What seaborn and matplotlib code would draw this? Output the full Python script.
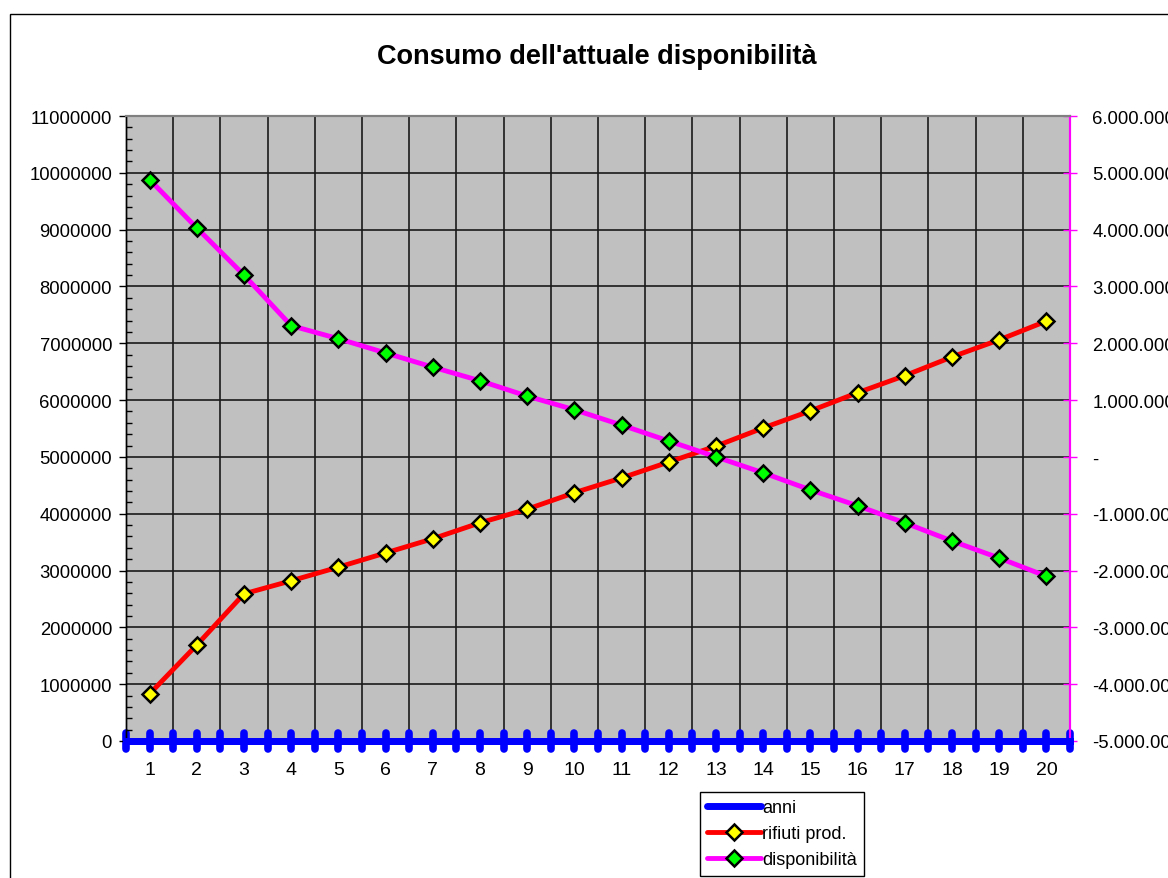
import pandas as pd
import seaborn as sns
import matplotlib.pyplot as plt
from matplotlib.ticker import MultipleLocator, FixedLocator, FuncFormatter
from matplotlib.patches import Rectangle
from matplotlib.markers import MarkerStyle

# dati
anni = list(range(1, 21))
rifiuti_prod = [830000, 1690000, 2590000, 2820000, 3060000, 3310000, 3560000,
                3840000, 4080000, 4370000, 4630000, 4910000, 5190000, 5510000,
                5810000, 6130000, 6430000, 6760000, 7060000, 7390000]
disponibilita = [4880000, 4030000, 3200000, 2310000, 2080000, 1830000, 1580000,
                 1340000, 1070000, 830000, 560000, 280000, 0, -280000,
                 -580000, -860000, -1160000, -1480000, -1780000, -2100000]
titolo = "Consumo dell'attuale disponibilità"

sns.set_theme(style='white')
plt.rcParams['font.family'] = ['Liberation Sans', 'DejaVu Sans']
plt.rcParams['text.color'] = 'black'
plt.rcParams['xtick.labelcolor'] = 'black'
plt.rcParams['ytick.labelcolor'] = 'black'

W, H = 1168, 879
fig = plt.figure(figsize=(W / 100, H / 100), dpi=100)
ax = fig.add_axes([126 / W, 1 - 742 / H, (1070 - 126) / W, (742 - 117) / H])
ax.set_facecolor('#c0c0c0')

df = pd.DataFrame({'anni': anni, 'rifiuti': rifiuti_prod, 'disp': disponibilita})

sns.lineplot(data=df, x='anni', y='anni', ax=ax, color='#0000ff', lw=5,
             label='anni', clip_on=False, zorder=5)
sns.lineplot(data=df, x='anni', y='rifiuti', ax=ax, color='#ff0000', lw=3.5,
             marker='D', markersize=8, markerfacecolor='#ffff00',
             markeredgecolor='black', markeredgewidth=1.8, label='rifiuti prod.', zorder=4)

ax2 = ax.twinx()
sns.lineplot(data=df, x='anni', y='disp', ax=ax2, color='#ff00ff', lw=3.5,
             marker='D', markersize=8, markerfacecolor='#00ff00',
             markeredgecolor='black', markeredgewidth=1.8, label='disponibilità', zorder=4)

for a in (ax, ax2):
    if a.get_legend():
        a.get_legend().remove()
    a.set_xlabel('')
    a.set_ylabel('')

ax.set_xlim(0.5, 20.5)
ax.set_ylim(0, 11000000)
ax2.set_ylim(-5000000, 6000000)

# asse x
ax.xaxis.set_major_locator(FixedLocator(anni))
ax.xaxis.set_minor_locator(FixedLocator([i + 0.5 for i in range(0, 21)]))
ax.tick_params(axis='x', which='both', direction='inout', length=11, width=5.5,
               color='#0000ff', labelsize=14, pad=9, bottom=True)
for t in ax.xaxis.get_major_ticks() + ax.xaxis.get_minor_ticks():
    t.tick1line.set_marker(MarkerStyle('|', capstyle='round'))
ax.grid(True, axis='x', which='minor', color='#1a1a1a', lw=1.2)
ax.grid(True, axis='y', which='major', color='#1a1a1a', lw=1.2)
ax.set_axisbelow(True)

# asse y sinistro
ax.yaxis.set_major_locator(MultipleLocator(1000000))
ax.yaxis.set_minor_locator(MultipleLocator(200000))
ax.yaxis.set_major_formatter(FuncFormatter(lambda v, p: f'{v:.0f}'))
ax.tick_params(axis='y', which='major', direction='out', length=5, width=1,
               color='black', labelsize=13.3, pad=5, left=True)
ax.tick_params(axis='y', which='minor', direction='in', length=4, width=1,
               color='black', left=True)

# asse y destro
ax2.yaxis.set_major_locator(MultipleLocator(1000000))
ax2.yaxis.set_major_formatter(FuncFormatter(
    lambda v, p: '-' if abs(v) < 1 else f'{v:,.0f}'.replace(',', '.')))
ax2.tick_params(axis='y', direction='inout', length=10, width=1,
                color='#ff00ff', labelsize=13.3, pad=11, right=True)

for a in (ax, ax2):
    a.spines['top'].set_color('#808080')
    a.spines['top'].set_linewidth(1.5)
    a.spines['left'].set_color('black')
    a.spines['left'].set_linewidth(1)
    a.spines['right'].set_color('#ff00ff')
    a.spines['right'].set_linewidth(1.5)
    a.spines['bottom'].set_color('#0000ff')
    a.spines['bottom'].set_linewidth(5)

fig.text(597 / W, 1 - 57 / H, titolo, ha='center', va='center',
         fontsize=19.5, fontweight='bold')

# cornice esterna
fig.add_artist(Rectangle((10 / W, -0.1), 1.2, 1 - 15 / H + 0.1,
                         transform=fig.transFigure, fill=False,
                         edgecolor='black', lw=1))

h1, l1 = ax.get_legend_handles_labels()
h2, l2 = ax2.get_legend_handles_labels()
fig.legend(h1 + h2, l1 + l2, loc='upper left',
           bbox_to_anchor=(700 / W, 1 - 793 / H), fontsize=13,
           frameon=True, fancybox=False, edgecolor='black', framealpha=1,
           handlelength=3.0, handletextpad=0.05, labelspacing=0.5,
           borderpad=0.4, borderaxespad=0)

fig.savefig('out.png', dpi=100)
